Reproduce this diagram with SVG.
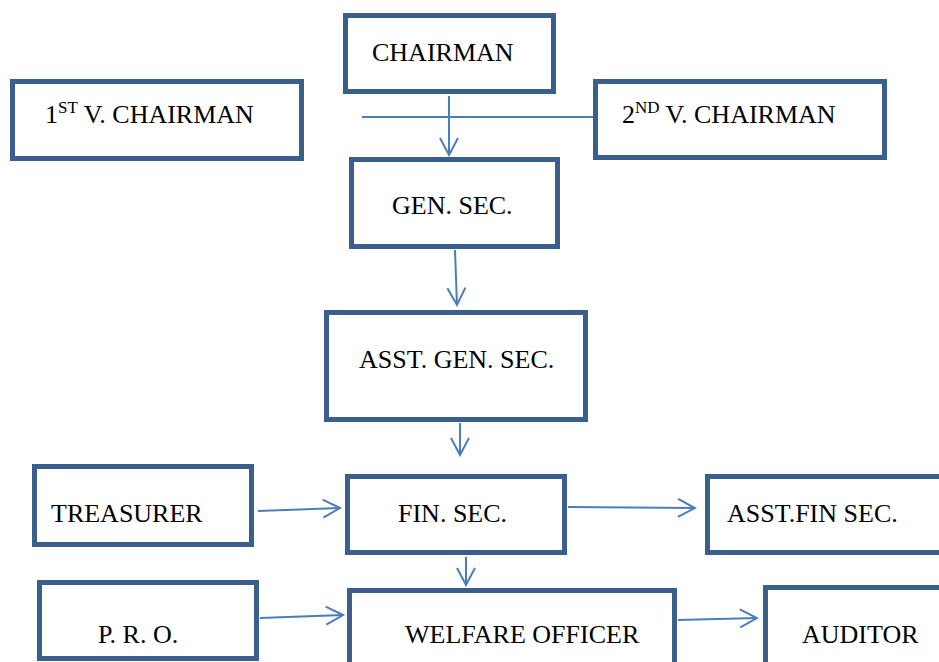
<svg xmlns="http://www.w3.org/2000/svg" width="939" height="662" viewBox="0 0 939 662">
<style>
.box{fill:#fff;stroke:#3B5F8D;stroke-width:5}
.lbl{font-family:"Liberation Serif","Times New Roman",serif;font-size:26px;fill:#000}
.con{fill:none;stroke:#4A7EBB;stroke-width:2}
</style>
<defs>
<marker id="arr" viewBox="0 0 20 20" refX="18" refY="10" markerWidth="20" markerHeight="20" markerUnits="userSpaceOnUse" orient="auto">
<path d="M1,1 L18,10 L1,19" fill="none" stroke="#4A7EBB" stroke-width="2"/>
</marker>
</defs>
<rect width="939" height="662" fill="#fff"/>
<g id="connectors">
<path class="con" d="M449,96 L449,155" marker-end="url(#arr)"/>
<path class="con" d="M362,117 L594,117"/>
<path class="con" d="M455,250 L457,305" marker-end="url(#arr)"/>
<path class="con" d="M460,423 L460,455" marker-end="url(#arr)"/>
<path class="con" d="M258,511 L340,508" marker-end="url(#arr)"/>
<path class="con" d="M568,507 L695,508" marker-end="url(#arr)"/>
<path class="con" d="M466,557 L466,585" marker-end="url(#arr)"/>
<path class="con" d="M260,618 L343,615" marker-end="url(#arr)"/>
<path class="con" d="M678,620 L757,618" marker-end="url(#arr)"/>
</g>
<g id="chairman"><rect class="box" x="345.5" y="15.5" width="208" height="76"/><text class="lbl" x="372" y="61">CHAIRMAN</text></g>
<g id="vchairman1"><rect class="box" x="12.5" y="81.5" width="289" height="77"/><text class="lbl" x="45" y="123">1<tspan font-size="17" dy="-10">ST</tspan><tspan dy="10"> V. CHAIRMAN</tspan></text></g>
<g id="vchairman2"><rect class="box" x="595.5" y="81.5" width="289" height="76"/><text class="lbl" x="622" y="123">2<tspan font-size="17" dy="-10">ND</tspan><tspan dy="10"> V. CHAIRMAN</tspan></text></g>
<g id="gensec"><rect class="box" x="351.5" y="159.5" width="206" height="87"/><text class="lbl" x="392" y="214">GEN. SEC.</text></g>
<g id="asstgensec"><rect class="box" x="326.5" y="312.5" width="259" height="107"/><text class="lbl" x="359" y="368">ASST. GEN. SEC.</text></g>
<g id="treasurer"><rect class="box" x="34.5" y="466.5" width="217" height="78"/><text class="lbl" x="51" y="522">TREASURER</text></g>
<g id="finsec"><rect class="box" x="347.5" y="476.5" width="217" height="76"/><text class="lbl" x="398" y="522">FIN. SEC.</text></g>
<g id="asstfinsec"><rect class="box" x="707.5" y="476.5" width="250" height="76"/><text class="lbl" x="727" y="522">ASST.FIN SEC.</text></g>
<g id="pro"><rect class="box" x="39.5" y="582.5" width="217" height="76"/><text class="lbl" x="98" y="643">P. R. O.</text></g>
<g id="welfare"><rect class="box" x="349.5" y="590.5" width="325" height="100"/><text class="lbl" x="405" y="643">WELFARE OFFICER</text></g>
<g id="auditor"><rect class="box" x="765.5" y="587.5" width="200" height="100"/><text class="lbl" x="802" y="643">AUDITOR</text></g>
</svg>
